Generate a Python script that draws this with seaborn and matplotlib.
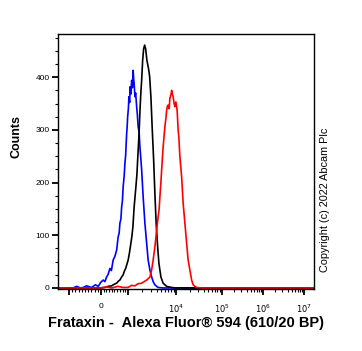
import numpy as np
import pandas as pd
import matplotlib
matplotlib.use("Agg")
import matplotlib.pyplot as plt
import seaborn as sns

sns.set_theme(style="ticks")
plt.rcParams['font.family'] = ['Liberation Sans', 'DejaVu Sans']

# histogram traces, x in display channels (0-1024), y in counts
blue_x = [0, 60, 75, 90, 101, 115, 135, 150, 161, 172, 181, 188, 195, 201, 208, 214, 221, 228, 235, 241,
          245, 248, 252, 255, 258, 261, 265, 268, 271, 275, 277, 279, 282, 284, 287, 289,
          292, 295, 298, 301, 303, 305, 308, 311, 315, 318, 321, 325, 328, 331, 335, 341, 348,
          355, 361, 368, 375, 381, 388, 395, 401, 420, 1024]
blue_y = [0, 0, 3, 0, 1, 4, 1, 6, 3, 11, 15, 12, 21, 26, 37, 33, 53, 60, 72, 97,
          104, 123, 131, 154, 165, 192, 212, 236, 252, 293, 306, 325, 341, 363, 352, 382,
          368, 394, 380, 413, 397, 388, 363, 370, 344, 328, 306, 295, 268, 250, 224, 173, 123,
          85, 53, 34, 21, 12, 6, 3, 1, 0, 0]

black_x = [0, 170, 188, 200, 215, 225, 235, 242, 248, 255, 261, 266, 271, 276, 281, 286, 292, 296, 300,
           305, 308, 312, 316, 319, 324, 329, 332, 335, 339, 343, 347, 351, 356, 361, 364, 367, 372,
           377, 383, 388, 393, 399, 404, 412, 421, 428, 435, 445, 455, 470, 1024]
black_y = [0, 0, 1, 3, 4, 7, 9, 13, 15, 21, 25, 32, 37, 45, 53, 66, 85, 98, 116,
           154, 170, 192, 215, 243, 287, 344, 372, 394, 432, 454, 461, 454, 432, 420, 412, 401, 363,
           306, 243, 179, 123, 78, 47, 21, 9, 6, 3, 2, 1, 0, 0]

red_x = [0, 170, 195, 215, 240, 260, 281, 295, 308, 320, 335, 345, 355, 362, 368, 375, 381, 388, 395,
         401, 405, 408, 412, 415, 421, 428, 432, 435, 438, 441, 445, 448, 452, 455, 458, 461, 465,
         468, 472, 477, 481, 484, 488, 495, 501, 508, 515, 521, 528, 535, 541, 548, 555, 570, 1024]
red_y = [0, 0, 2, 0, 3, 1, 1, 5, 4, 8, 9, 12, 15, 18, 21, 34, 53, 78, 110,
         135, 150, 173, 200, 224, 268, 306, 322, 337, 345, 347, 340, 360, 366, 375, 368, 363, 350,
         344, 353, 337, 300, 285, 249, 211, 161, 123, 85, 53, 34, 15, 6, 3, 1, 0, 0]

# axis decorations
major_pos = [44, 172, 280, 472, 656, 820, 984]
major_lab = ["", "0", "", "$10^4$", "$10^5$", "$10^6$", "$10^7$"]
y_major = [0, 100, 200, 300, 400]

df = pd.concat([
    pd.DataFrame({"ch": blue_x, "count": blue_y, "s": "blue"}),
    pd.DataFrame({"ch": black_x, "count": black_y, "s": "black"}),
    pd.DataFrame({"ch": red_x, "count": red_y, "s": "red"}),
])

fig = plt.figure(figsize=(3.62, 3.51), dpi=100)
ax = fig.add_axes([0.160, 0.1766, 0.707, 0.7265])
sns.lineplot(data=df, x="ch", y="count", hue="s", palette={"blue": "#0000ff", "black": "#000000", "red": "#ff0000"},
             sort=False, estimator=None, linewidth=1.2, legend=False, ax=ax)

ax.set_xlim(0, 1024)
ax.set_ylim(-2, 482)

# minor ticks: linear around zero, log within decades
minor = []
for a, b in zip(major_pos[:2], major_pos[1:3]):
    minor += list(np.linspace(a, b, 11)[1:-1])
for a, b in zip(major_pos[2:-1], major_pos[3:]):
    minor += [a + (b - a) * np.log10(m) for m in range(2, 10)]
ax.set_xticks(major_pos)
ax.set_xticklabels(major_lab)
ax.set_xticks(minor, minor=True)
ax.set_yticks(y_major)
ax.set_yticks(np.arange(0, 481, 25), minor=True)

ax.tick_params(axis="both", which="major", direction="out", length=4, width=1.3,
               labelsize=6, pad=2, color="black", labelcolor="black")
ax.tick_params(axis="both", which="minor", direction="out", length=2.5, width=0.8, color="black")
ax.tick_params(axis="x", which="major", pad=6)
for s in ax.spines.values():
    s.set_color("black")
    s.set_linewidth(1.0)

ax.set_xlabel("Frataxin -  Alexa Fluor\u00ae 594 (610/20 BP)", fontsize=10.5, fontweight="bold", color="black")
ax.set_ylabel("Counts", fontsize=9, fontweight="bold", color="black")
ax.xaxis.set_label_coords(0.5, -0.106)
ax.yaxis.set_label_coords(-0.137, 0.6)

fig.text(0.898, 0.43, "Copyright (c) 2022 Abcam Plc", rotation=90, fontsize=7.8,
         ha="center", va="center", color="black")

fig.savefig("out.png", dpi=100)
